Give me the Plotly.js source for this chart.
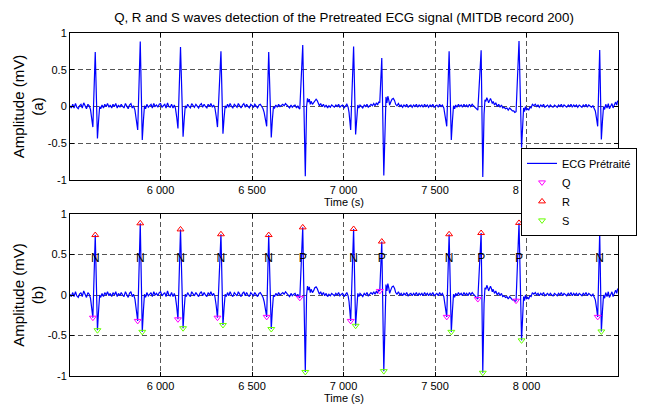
<!DOCTYPE html>
<html>
<head>
<meta charset="utf-8">
<script src="https://cdn.plot.ly/plotly-3.0.1.min.js"></script>
<style>html,body{margin:0;padding:0;background:#fff}#chart{width:650px;height:406px}</style>
</head>
<body>
<div id="chart"></div>
<script>
// Pretreated ECG signal: time (samples) and amplitude (mV)
const ecgTime = [
5505,5512,5520,5527,5535,5542,5550,5557,5565,5572,5580,5587,5595,5603,5610,5617,
5623,5630,5643,5655,5661,5667,5673,
5680,5688,5695,5703,5710,5718,5725,5733,5740,5748,5755,5763,5770,5778,5785,5793,5800,5808,5815,5823,5830,5838,5845,5852,5860,
5868,5875,5889,5900,5906,5912,5918,
5925,5933,5940,5948,5955,5963,5970,5978,5985,5993,6000,6008,6015,6023,6030,6038,6045,6053,6060,6068,6075,
6081,6088,6095,6109,6123,6129,6135,6141,
6148,6155,6163,6170,6178,6185,6193,6200,6208,6215,6223,6230,6238,6245,6253,6260,6268,6275,6283,6290,6297,
6304,6311,6330,6341,6347,6353,6359,
6366,6373,6380,6388,6395,6403,6410,6418,6425,6433,6440,6448,6455,6463,6470,6478,6485,6493,6500,6508,6515,6523,6530,6538,6545,6553,6560,
6566,6573,6580,6591,6605,6611,6617,6623,
6630,6638,6645,6653,6660,6668,6675,6683,6690,6698,6705,6713,6720,6728,6735,6743,6750,6755,
6761,6777,6791,6798,6803,6808,6813,6818,6823,6830,6836,6843,6850,6856,6862,6868,6875,6882,6890,6897,6905,6913,6920,6928,6935,6943,6950,6958,6965,6973,6980,6988,6995,7003,7010,7018,7025,
7030,7039,7055,7066,7072,7078,7084,
7090,7098,7105,7113,7120,7128,7135,7143,7150,7158,7165,7172,7180,7186,7192,
7198,7209,7220,7227,7232,7237,7242,7247,7252,7258,7265,7272,7279,7285,7292,7300,7308,7315,7323,7330,7338,7345,7353,7360,7368,7375,7383,7390,7398,7405,7413,7420,7428,7435,7443,7450,7458,7465,7473,7480,7488,7495,7503,7510,7518,7525,7533,7540,7548,
7556,7564,7577,7589,7595,7601,7607,
7613,7620,7628,7635,7643,7650,7658,7665,7673,7680,7688,7695,7703,7710,7718,7725,
7734,7752,7761,7768,7773,7778,7783,7788,7793,7798,7803,7808,7813,7818,7825,7832,7840,7848,7855,7863,7870,7878,7885,7893,7900,7908,7915,7923,7930,7936,
7943,7959,7973,7979,7984,7989,7994,8000,8006,8012,8018,8025,8032,8040,8048,8055,8063,8070,8078,8085,8093,8100,8108,8115,8123,8130,8138,8145,8153,8160,8168,8175,8183,8190,8198,8205,8213,8220,8228,8235,8243,8250,8258,8265,8273,8280,8288,8295,8303,8310,8318,8325,8333,8340,8348,8355,8363,8370,8376,
8382,8389,8400,8409,8415,8421,8427,8433,8440,8447,8453,8460,8467,8473,8480,8487,8493,8498
];
const ecgAmp = [
0.01,-0.02,0.03,-0.02,0.04,-0.01,-0.03,0.01,0.03,-0.02,0.05,0.00,-0.03,0.03,0.01,-0.04,
-0.15,-0.28,0.74,-0.435,-0.20,0.00,-0.03,
0.02,-0.02,0.03,0.00,0.04,-0.01,0.02,-0.02,0.03,0.00,0.04,-0.02,0.02,-0.01,0.03,0.00,-0.02,0.04,0.00,-0.03,0.02,0.04,-0.02,0.01,-0.05,
-0.18,-0.32,0.885,-0.455,-0.20,0.01,-0.03,
0.03,-0.01,0.01,0.03,-0.02,0.04,0.00,0.02,-0.01,0.03,0.04,-0.01,0.01,0.03,-0.02,0.05,0.00,-0.01,0.03,-0.02,0.02,
-0.02,-0.14,-0.30,0.81,-0.41,-0.18,0.01,-0.02,
0.03,0.00,-0.02,0.04,0.01,-0.01,0.03,0.00,-0.02,0.02,0.04,-0.01,0.03,0.00,-0.02,0.03,0.00,0.04,-0.01,0.02,-0.02,
-0.13,-0.28,0.75,-0.37,-0.16,0.01,-0.02,
0.03,-0.01,0.04,0.00,-0.02,0.03,0.01,-0.01,0.04,0.00,-0.02,0.02,0.04,-0.01,0.03,0.00,-0.02,0.03,0.01,-0.01,0.03,0.00,-0.02,0.02,0.03,0.00,-0.03,
-0.08,-0.16,-0.27,0.74,-0.42,-0.18,0.00,-0.02,
0.02,-0.01,0.03,0.00,0.02,0.03,0.01,0.04,0.02,0.00,-0.02,0.02,-0.01,0.01,0.02,-0.02,0.01,-0.02,
-0.035,0.835,-0.95,0.00,0.11,0.06,0.10,0.03,0.07,0.03,0.05,0.09,0.10,0.08,0.05,0.01,0.04,0.00,0.03,-0.01,0.02,-0.02,0.01,-0.01,0.02,0.00,-0.01,0.02,0.00,0.03,-0.01,0.01,0.02,-0.02,0.00,0.03,-0.01,
-0.08,-0.32,0.815,-0.38,-0.15,0.02,-0.02,
0.02,0.00,-0.02,0.02,0.00,0.03,-0.01,0.01,0.03,0.01,0.04,0.01,0.05,0.02,0.06,
0.05,0.66,-0.94,0.00,0.13,0.05,0.14,0.09,0.02,0.06,0.10,0.11,0.08,0.03,0.01,0.04,0.00,0.02,-0.01,0.02,0.00,0.03,-0.01,0.01,0.02,-0.01,0.02,0.00,0.03,-0.01,0.02,0.00,0.02,-0.01,0.03,0.00,0.02,-0.01,0.02,0.00,0.03,-0.01,0.01,0.02,-0.01,0.03,0.00,0.02,-0.02,
-0.12,-0.27,0.75,-0.455,-0.20,0.01,-0.03,
0.02,-0.01,0.03,0.00,0.02,-0.01,0.03,0.00,0.02,-0.01,0.03,0.00,0.03,0.01,-0.01,-0.03,
-0.05,0.765,-0.96,-0.10,0.09,0.07,0.12,0.09,0.05,0.08,0.11,0.08,0.04,0.07,0.02,0.05,0.00,0.03,-0.01,0.02,-0.02,-0.01,-0.03,-0.02,-0.05,-0.02,-0.04,-0.06,-0.06,-0.08,
-0.07,0.89,-0.56,-0.15,-0.02,-0.07,0.00,-0.05,-0.03,-0.05,-0.01,-0.02,0.03,0.01,0.03,0.00,0.02,-0.01,0.02,0.00,0.03,-0.01,0.01,0.02,-0.01,0.02,0.00,-0.01,0.02,0.00,-0.01,0.02,0.00,0.03,-0.01,0.02,0.00,-0.01,0.02,0.00,0.03,-0.01,0.02,0.00,0.02,-0.01,0.02,0.00,-0.01,0.02,0.00,0.03,-0.01,0.02,0.00,-0.01,0.01,-0.02,-0.06,
-0.15,-0.27,0.77,-0.45,-0.20,0.00,-0.04,0.03,-0.02,0.04,-0.03,0.00,0.04,-0.02,0.02,0.06,0.02,0.08
];

// Detected waves
const qTime = [5630,5875,6095,6311,6580,6761,7039,7198,7564,7734,7943,8389];
const qAmp  = [-0.28,-0.32,-0.30,-0.28,-0.27,-0.035,-0.32,0.05,-0.27,-0.05,-0.07,-0.27];
const rTime = [5643,5889,6109,6330,6591,6777,7055,7209,7577,7752,7959,8400];
const rAmp  = [0.74,0.885,0.81,0.75,0.74,0.835,0.815,0.66,0.75,0.765,0.89,0.77];
const sTime = [5655,5900,6123,6341,6605,6791,7066,7220,7589,7761,7973,8409];
const sAmp  = [-0.435,-0.455,-0.41,-0.37,-0.42,-0.95,-0.38,-0.94,-0.455,-0.96,-0.56,-0.45];
const beatLabels = ['N','N','N','N','N','P','N','P','N','P','P','N'];

const xTickVals = [6000,6500,7000,7500,8000];
const xTickText = ['6 000','6 500','7 000','7 500','8 000'];
const yTickVals = [-1,-0.5,0,0.5,1];
const yTickText = ['-1','-0.5','0','0.5','1'];

const FONT = 'Liberation Sans, Arial, Helvetica, sans-serif';
const labelLevel = 0.45;

const traces = [
  {x: ecgTime, y: ecgAmp, xaxis:'x', yaxis:'y', type:'scatter', mode:'lines',
   line:{color:'#0000ff', width:1.2}, showlegend:false, hoverinfo:'skip'},
  {x: ecgTime, y: ecgAmp, xaxis:'x2', yaxis:'y2', type:'scatter', mode:'lines',
   line:{color:'#0000ff', width:1.2}, name:'ECG Prétraité', hoverinfo:'skip'},
  {x: qTime, y: qAmp, xaxis:'x2', yaxis:'y2', type:'scatter', mode:'markers', name:'Q',
   marker:{symbol:'triangle-down-open', size:6, color:'#ff00ff', line:{width:1}}},
  {x: rTime, y: rAmp, xaxis:'x2', yaxis:'y2', type:'scatter', mode:'markers', name:'R',
   marker:{symbol:'triangle-up-open', size:6, color:'#ff0000', line:{width:1}}},
  {x: sTime, y: sAmp, xaxis:'x2', yaxis:'y2', type:'scatter', mode:'markers', name:'S',
   marker:{symbol:'triangle-down-open', size:6, color:'#66ff00', line:{width:1}}},
  {x: rTime, y: rTime.map(() => labelLevel), xaxis:'x2', yaxis:'y2', type:'scatter', mode:'text',
   text: beatLabels, textposition:'middle center',
   textfont:{family:FONT, size:12, color:'#000'}, showlegend:false, hoverinfo:'skip'}
];

function xAx(anchor){
  return {anchor: anchor, range:[5505, 8500], showline:true, mirror:'ticks', linecolor:'#000', linewidth:1,
    ticks:'inside', ticklen:4, tickcolor:'#000', tickvals:xTickVals, ticktext:xTickText,
    showgrid:true, gridcolor:'#555', griddash:'5px,3px', gridwidth:1, zeroline:false,
    tickfont:{family:FONT, size:11, color:'#000'},
    title:{text:'Time (s)', font:{family:FONT, size:11, color:'#000'}, standoff:0}};
}
function yAx(anchor, domain, tag){
  return {anchor: anchor, domain: domain, range:[-1,1], showline:true, mirror:'ticks', linecolor:'#000', linewidth:1,
    ticks:'inside', ticklen:4, tickcolor:'#000', tickvals:yTickVals, ticktext:yTickText,
    showgrid:true, gridcolor:'#555', griddash:'5px,3px', gridwidth:1, zeroline:false,
    tickfont:{family:FONT, size:11, color:'#000'},
    title:{text:'Amplitude (mV)<br>'+tag, font:{family:FONT, size:15, color:'#000'}, standoff:0}};
}

const layout = {
  width:650, height:406,
  margin:{l:70, r:32, t:33, b:30, autoexpand:false},
  paper_bgcolor:'#fff', plot_bgcolor:'#fff',
  font:{family:FONT, color:'#000'},
  title:{text:'Q, R and S waves detection of the Pretreated ECG signal (MITDB record 200)',
    font:{family:FONT, size:13.3, color:'#000'}, x:0.5, xref:'paper', xanchor:'center', y:0.958, yanchor:'middle'},
  xaxis: xAx('y'),
  yaxis: yAx('x', [0.5714, 1], '(a)'),
  xaxis2: xAx('y2'),
  yaxis2: yAx('x2', [0, 0.4723], '(b)'),
  showlegend:true,
  legend:{x:1.0347, y:0.665, xanchor:'right', yanchor:'top', bgcolor:'#fff', bordercolor:'#000', borderwidth:1,
    font:{family:FONT, size:11, color:'#000'}, itemwidth:30, tracegroupgap:0}
};

Plotly.newPlot('chart', traces, layout, {displayModeBar:false, staticPlot:true});
</script>
</body>
</html>
